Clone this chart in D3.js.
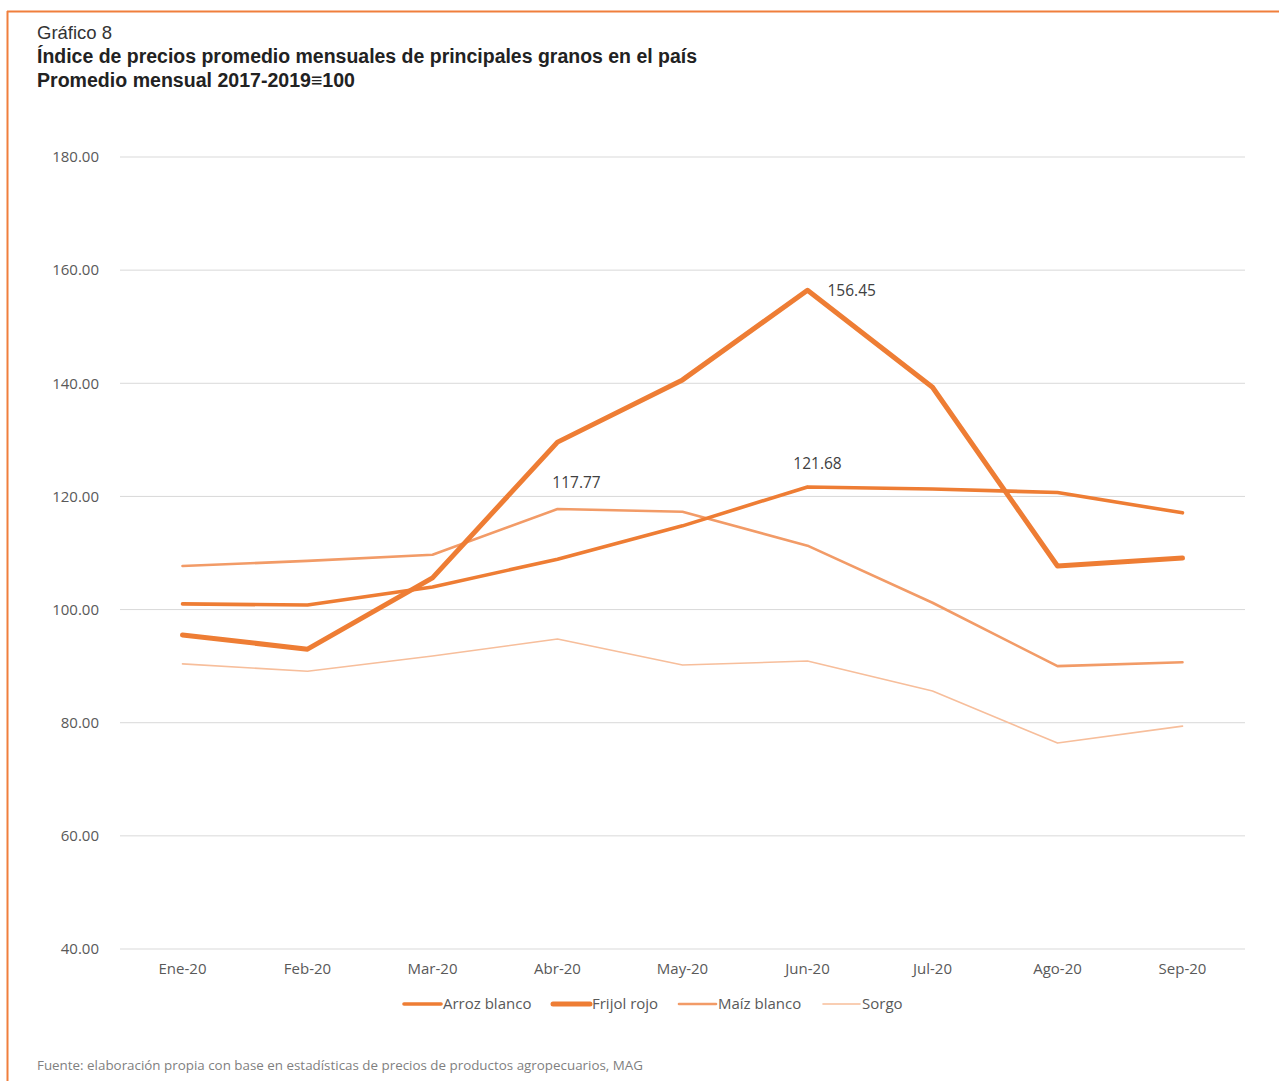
<!DOCTYPE html>
<html>
<head>
<meta charset="utf-8">
<script src="https://cdn.jsdelivr.net/npm/d3@7"></script>
<style>
  html, body { margin: 0; padding: 0; background: #fff; }
  svg { display: block; }
</style>
</head>
<body>
<svg id="chart" width="1279" height="1081"></svg>
<script>
// Monthly price index of main grains, 2020 (average 2017-2019 = 100)
const months = ["Ene-20", "Feb-20", "Mar-20", "Abr-20", "May-20", "Jun-20", "Jul-20", "Ago-20", "Sep-20"];
const arrozBlanco = [101.0, 100.8, 104.0, 108.9, 114.8, 121.68, 121.3, 120.7, 117.1];
const frijolRojo = [95.5, 93.0, 105.6, 129.6, 140.6, 156.45, 139.3, 107.7, 109.1];
const maizBlanco = [107.7, 108.6, 109.7, 117.77, 117.3, 111.3, 101.2, 90.0, 90.7];
const sorgo = [90.4, 89.1, 91.8, 94.8, 90.2, 90.9, 85.6, 76.4, 79.4];
const yTicks = [40, 60, 80, 100, 120, 140, 160, 180];

const seriesList = [
  { name: "Arroz blanco", values: arrozBlanco, color: "#EE7D34", width: 3.6 },
  { name: "Frijol rojo", values: frijolRojo, color: "#EE7D34", width: 5 },
  { name: "Maíz blanco", values: maizBlanco, color: "#F29B67", width: 2.6 },
  { name: "Sorgo", values: sorgo, color: "#F7BE9B", width: 1.6 }
];

// Data labels: [series, month index]
const valueLabels = [
  { series: frijolRojo, idx: 5, dx: 20, dy: 6, anchor: "start" },
  { series: arrozBlanco, idx: 5, dx: 10, dy: -18, anchor: "middle" },
  { series: maizBlanco, idx: 3, dx: 19, dy: -21, anchor: "middle" }
];

const svg = d3.select("#chart");
const font = "'Open Sans', 'Noto Sans', sans-serif";
const titleFont = "'Liberation Sans Narrow', 'Liberation Sans', sans-serif";

// Frame: orange rule at the top and on the left
svg.append("line").attr("x1", 7).attr("x2", 1279).attr("y1", 11.5).attr("y2", 11.5)
  .attr("stroke", "#F07F3C").attr("stroke-width", 2);
svg.append("line").attr("x1", 7.5).attr("x2", 7.5).attr("y1", 11).attr("y2", 1081)
  .attr("stroke", "#F07F3C").attr("stroke-width", 2);

// Titles
svg.append("text").attr("x", 37).attr("y", 39).attr("font-family", titleFont)
  .attr("font-size", 18.5).attr("fill", "#333").text("Gráfico 8");
svg.append("text").attr("x", 37).attr("y", 63).attr("font-family", titleFont)
  .attr("font-size", 19.5).attr("font-weight", "bold").attr("fill", "#222")
  .attr("textLength", 660).attr("lengthAdjust", "spacingAndGlyphs")
  .text("Índice de precios promedio mensuales de principales granos en el país");
svg.append("text").attr("x", 37).attr("y", 87).attr("font-family", titleFont)
  .attr("font-size", 19.5).attr("font-weight", "bold").attr("fill", "#222")
  .attr("textLength", 318).attr("lengthAdjust", "spacingAndGlyphs")
  .text("Promedio mensual 2017-2019≡100");

// Scales
const x = d3.scaleBand().domain(months).range([120, 1245]);
const y = d3.scaleLinear().domain([40, 180]).range([949, 157]);
const cx = m => x(m) + x.bandwidth() / 2;

// Gridlines
svg.append("g").selectAll("line").data(yTicks).join("line")
  .attr("x1", 120).attr("x2", 1245)
  .attr("y1", d => y(d)).attr("y2", d => y(d))
  .attr("stroke", "#D9D9D9").attr("stroke-width", 1);

// Y axis
const yAxis = svg.append("g").attr("transform", "translate(102,0)")
  .call(d3.axisLeft(y).tickValues(yTicks).tickFormat(d3.format(".2f")).tickSize(0));
yAxis.select(".domain").remove();
yAxis.selectAll("text").attr("font-family", font).attr("font-size", 15)
  .attr("fill", "#595959").attr("dy", "0.32em");

// X axis
const xAxis = svg.append("g").attr("transform", "translate(0,949)")
  .call(d3.axisBottom(x).tickSize(0));
xAxis.select(".domain").remove();
xAxis.selectAll("text").attr("font-family", font).attr("font-size", 15)
  .attr("fill", "#595959").attr("dy", "1.45em");

// Lines (drawn light to dark so the thick series sit on top)
const line = d3.line().x((d, i) => cx(months[i])).y(d => y(d));
const drawOrder = [3, 2, 0, 1];
svg.append("g").selectAll("path").data(drawOrder.map(i => seriesList[i])).join("path")
  .attr("d", s => line(s.values))
  .attr("fill", "none")
  .attr("stroke", s => s.color)
  .attr("stroke-width", s => s.width)
  .attr("stroke-linejoin", "round")
  .attr("stroke-linecap", "round");

// Value labels
svg.append("g").selectAll("text").data(valueLabels).join("text")
  .attr("x", d => cx(months[d.idx]) + d.dx)
  .attr("y", d => y(d.series[d.idx]) + d.dy)
  .attr("text-anchor", d => d.anchor)
  .attr("font-family", font).attr("font-size", 15.5).attr("fill", "#404040")
  .text(d => d.series[d.idx].toFixed(2));

// Legend
const legendItems = [
  { x: 404, tx: 443 },
  { x: 553, tx: 592 },
  { x: 679, tx: 718 },
  { x: 823, tx: 862 }
];
const legend = svg.append("g").selectAll("g").data(seriesList).join("g");
legend.append("line")
  .attr("x1", (d, i) => legendItems[i].x).attr("x2", (d, i) => legendItems[i].tx - 2)
  .attr("y1", 1004).attr("y2", 1004)
  .attr("stroke", d => d.color).attr("stroke-width", d => d.width)
  .attr("stroke-linecap", "round");
legend.append("text")
  .attr("x", (d, i) => legendItems[i].tx).attr("y", 1009)
  .attr("font-family", font).attr("font-size", 15).attr("fill", "#595959")
  .text(d => d.name);

// Source note
svg.append("text").attr("x", 37).attr("y", 1070).attr("font-family", font)
  .attr("font-size", 13).attr("fill", "#7f7f7f")
  .attr("textLength", 606).attr("lengthAdjust", "spacingAndGlyphs")
  .text("Fuente: elaboración propia con base en estadísticas de precios de productos agropecuarios, MAG");
</script>
</body>
</html>
